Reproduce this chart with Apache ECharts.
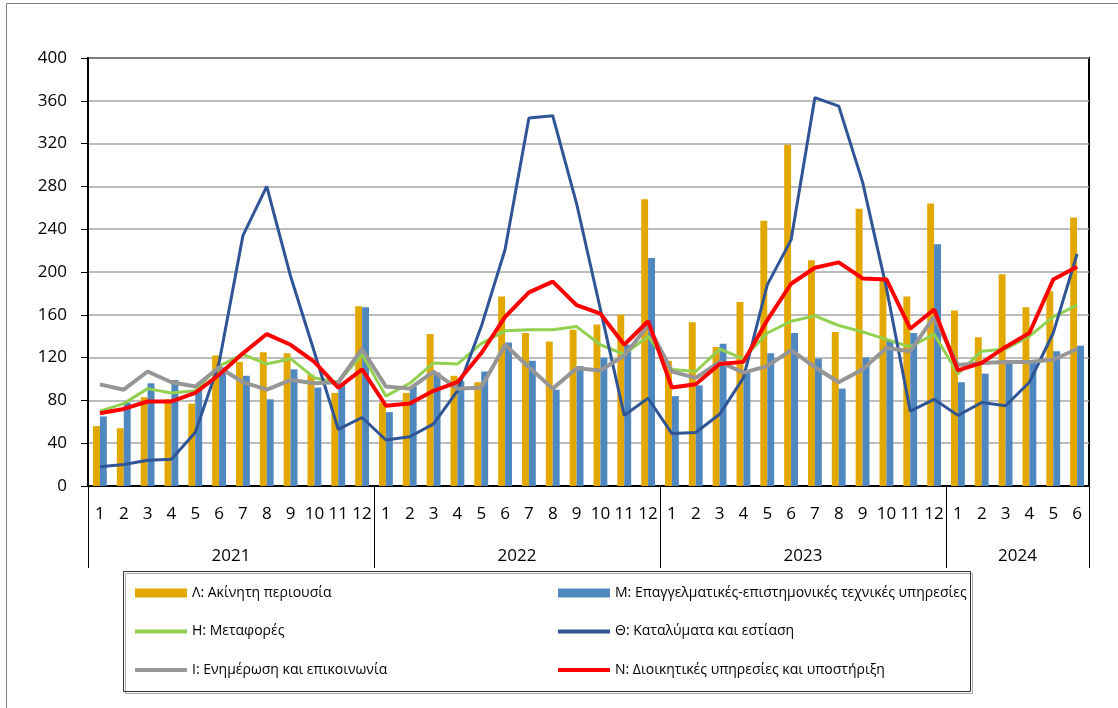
<!DOCTYPE html>
<html>
<head>
<meta charset="utf-8">
<script src="https://cdn.jsdelivr.net/npm/echarts@6/dist/echarts.min.js"></script>
<style>
  html, body { margin: 0; padding: 0; background: #fff; }
  #main { width: 1118px; height: 708px; }
</style>
</head>
<body>
<div id="main"></div>
<script>
// months per year on the x axis (2021 .. 2024/06)
var years = ['2021', '2022', '2023', '2024'];
var monthsPerYear = [12, 12, 12, 6];

// Λ: Ακίνητη περιουσία (bars)
var realEstate = [56, 54, 83, 81, 77, 122, 116, 125, 124, 104, 87, 168,
                  78, 87, 142, 103, 97, 177, 143, 135, 146, 151, 160, 268,
                  117, 153, 130, 172, 248, 319, 211, 144, 259, 195, 177, 264,
                  164, 139, 198, 167, 182, 251];
// Μ: Επαγγελματικές-επιστημονικές τεχνικές υπηρεσίες (bars)
var professional = [65, 78, 96, 99, 90, 111, 103, 81, 109, 92, 96, 167,
                    69, 93, 106, 98, 107, 134, 117, 90, 112, 120, 132, 213,
                    84, 94, 133, 107, 124, 143, 119, 91, 120, 136, 143, 226,
                    97, 105, 116, 116, 126, 131];
// Η: Μεταφορές
var transport = [70, 77, 91, 87, 89, 112, 123, 114, 119, 101, 97, 123,
                 84, 96, 115, 114, 133, 145, 146, 146, 149, 132, 123, 140,
                 109, 107, 128, 119, 143, 154, 159, 150, 144, 137, 130, 142,
                 105, 126, 128, 140, 158, 169];
// Θ: Καταλύματα και εστίαση
var accommodation = [18, 20, 24, 25, 50, 115, 234, 280, 196, 125, 53, 64,
                     43, 46, 58, 89, 149, 221, 344, 346, 264, 165, 66, 82,
                     49, 50, 67, 101, 188, 230, 363, 355, 284, 185, 70, 81,
                     66, 78, 75, 97, 143, 217];
// Ι: Ενημέρωση και επικοινωνία
var information = [95, 90, 107, 97, 93, 111, 97, 90, 99, 96, 97, 128,
                   93, 91, 107, 91, 92, 132, 111, 91, 110, 108, 122, 150,
                   107, 101, 116, 106, 112, 127, 111, 97, 109, 129, 126, 158,
                   113, 115, 116, 116, 118, 128];
// Ν: Διοικητικές υπηρεσίες και υποστήριξη
var administrative = [68, 72, 79, 79, 87, 104, 124, 142, 132, 116, 92, 109,
                      75, 77, 89, 97, 124, 158, 181, 191, 169, 161, 132, 154,
                      92, 95, 114, 116, 155, 189, 204, 209, 194, 193, 147, 165,
                      108, 115, 130, 143, 193, 205];

var yTicks = { min: 0, max: 400, step: 40 };

// build month labels and year boundaries
var monthLabels = [];
var yearBounds = [0];
var yearCenters = [];
var pos = 0;
monthsPerYear.forEach(function (n) {
    for (var m = 1; m <= n; m++) monthLabels.push(String(m));
    yearCenters.push(pos + n / 2);
    pos += n;
    yearBounds.push(pos);
});

var FONT = 'Open Sans';
// plain thick line used as legend icon for the line series
var LINE_ICON = 'path://M0,0h52v4H0z';

var myChart = echarts.init(document.getElementById('main'));

var option = {
    animation: false,
    backgroundColor: '#fff',
    textStyle: { fontFamily: FONT },
    grid: {
        left: 88, right: 29, top: 58, bottom: 222,
        show: true, borderColor: '#000', borderWidth: 2
    },
    xAxis: [
        {
            type: 'category',
            data: monthLabels,
            axisLine: { lineStyle: { color: '#000', width: 2 } },
            axisTick: { interval: 0, length: 42, lineStyle: { color: '#000', width: 1 } },
            axisLabel: { interval: 0, margin: 20, color: '#000', fontSize: 17, fontFamily: FONT }
        },
        {
            // year band below the months
            type: 'value',
            position: 'bottom',
            min: 0,
            max: pos,
            axisLine: { show: false },
            splitLine: { show: false },
            axisTick: {
                show: true, length: 82, customValues: yearBounds,
                lineStyle: { color: '#000', width: 1 }
            },
            axisLabel: {
                customValues: yearCenters,
                margin: 62, color: '#000', fontSize: 17, fontFamily: FONT,
                formatter: function (v) {
                    var i = yearCenters.indexOf(v);
                    return i >= 0 ? years[i] : '';
                }
            }
        }
    ],
    yAxis: {
        type: 'value',
        min: yTicks.min,
        max: yTicks.max,
        interval: yTicks.step,
        axisLine: { show: true, lineStyle: { color: '#000', width: 2 } },
        axisTick: { show: true, length: 7, lineStyle: { color: '#000' } },
        axisLabel: { margin: 21, color: '#000', fontSize: 17, fontFamily: FONT },
        splitLine: { lineStyle: { color: '#A6A6A6', width: 1.5 } }
    },
    legend: [
        {
            orient: 'vertical', left: 135, top: 586, itemGap: 24.5, padding: 0,
            itemWidth: 52, itemHeight: 9,
            textStyle: { fontSize: 14, color: '#000', fontFamily: FONT },
            data: [
                { name: 'Λ: Ακίνητη περιουσία', icon: 'rect' },
                { name: 'Η: Μεταφορές', icon: LINE_ICON },
                { name: 'Ι: Ενημέρωση και επικοινωνία', icon: LINE_ICON }
            ]
        },
        {
            orient: 'vertical', left: 558, top: 586, itemGap: 24.5, padding: 0,
            itemWidth: 52, itemHeight: 9,
            textStyle: { fontSize: 14, color: '#000', fontFamily: FONT },
            data: [
                { name: 'Μ: Επαγγελματικές-επιστημονικές τεχνικές υπηρεσίες', icon: 'rect' },
                { name: 'Θ: Καταλύματα και εστίαση', icon: LINE_ICON },
                { name: 'Ν: Διοικητικές υπηρεσίες και υποστήριξη', icon: LINE_ICON }
            ]
        }
    ],
    graphic: [
        {
            type: 'rect', silent: true, z: -10,
            shape: { x: 6.5, y: 3.5, width: 1130, height: 720 },
            style: { fill: 'none', stroke: '#7f7f7f', lineWidth: 1 }
        },
        {
            type: 'rect', silent: true, z: -10,
            shape: { x: 123.5, y: 571.5, width: 847, height: 120 },
            style: {
                fill: 'none', stroke: '#333', lineWidth: 1,
                shadowColor: '#aaa', shadowOffsetX: 2, shadowOffsetY: 2, shadowBlur: 0
            }
        }
    ],
    series: [
        {
            name: 'Λ: Ακίνητη περιουσία', type: 'bar', data: realEstate,
            barGap: '0%', barCategoryGap: '42%',
            itemStyle: { color: '#E2A800' }
        },
        {
            name: 'Μ: Επαγγελματικές-επιστημονικές τεχνικές υπηρεσίες', type: 'bar', data: professional,
            barGap: '0%', barCategoryGap: '42%',
            itemStyle: { color: '#4F87BF' }
        },
        {
            name: 'Η: Μεταφορές', type: 'line', data: transport, symbol: 'none',
            lineStyle: { color: '#92D050', width: 3 }, itemStyle: { color: '#92D050' }
        },
        {
            name: 'Θ: Καταλύματα και εστίαση', type: 'line', data: accommodation, symbol: 'none',
            lineStyle: { color: '#2F5597', width: 3 }, itemStyle: { color: '#2F5597' }
        },
        {
            name: 'Ι: Ενημέρωση και επικοινωνία', type: 'line', data: information, symbol: 'none',
            lineStyle: { color: '#969696', width: 4 }, itemStyle: { color: '#969696' }
        },
        {
            name: 'Ν: Διοικητικές υπηρεσίες και υποστήριξη', type: 'line', data: administrative, symbol: 'none',
            lineStyle: { color: '#FF0000', width: 4 }, itemStyle: { color: '#FF0000' }
        }
    ]
};

myChart.setOption(option);
</script>
</body>
</html>
